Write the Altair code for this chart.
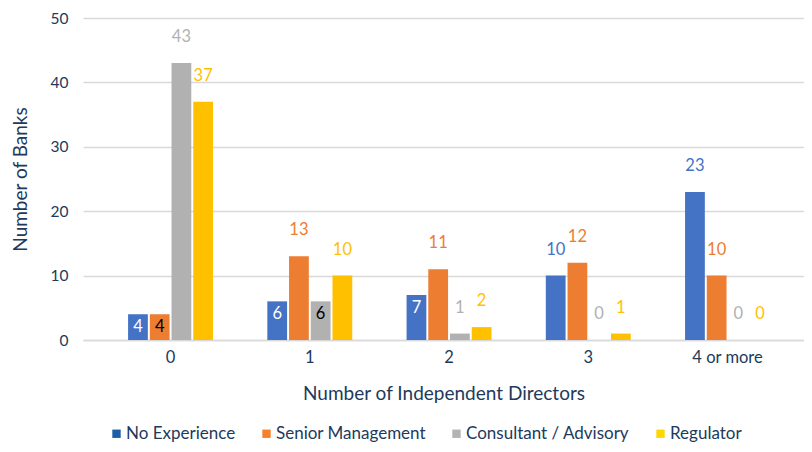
import altair as alt
import pandas as pd

categories = ["0", "1", "2", "3", "4 or more"]
series_names = ["No Experience", "Senior Management", "Consultant / Advisory", "Regulator"]
no_experience = [4, 6, 7, 10, 23]
senior_management = [4, 13, 11, 12, 10]
consultant_advisory = [43, 6, 1, 0, 0]
regulator = [37, 10, 2, 1, 0]
y_ticks = [0, 10, 20, 30, 40, 50]

bar_colors = ["#4472C4", "#ED7D31", "#B1B1B1", "#FFC000"]
legend_colors = ["#1A5FA8", "#F5822A", "#B3B3B3", "#FFD700"]
inside_text_colors = ["#FFFFFF", "#000000", "#000000", "#000000"]

rows = []
for s, vals in zip(series_names, [no_experience, senior_management, consultant_advisory, regulator]):
    for c, v in zip(categories, vals):
        rows.append({"cat": c, "series": s, "value": v})
df = pd.DataFrame(rows)

FONT = "Lato"
TEXT = "#213A5C"
GRID = "#D9D9D9"

x = alt.X(
    "cat:N", sort=categories, title="Number of Independent Directors",
    scale=alt.Scale(paddingInner=0.39, paddingOuter=0.284, align=0.57),
    axis=alt.Axis(labelAngle=0, ticks=False, labelPadding=9, titlePadding=19,
                  domainColor=GRID, domainWidth=1.5, labelFontSize=16.5, titleFontSize=19,
                  labelColor=TEXT, titleColor=TEXT, labelFont=FONT, titleFont=FONT,
                  titleFontWeight="normal"),
)
xo = alt.XOffset("series:N", sort=series_names,
                 scale=alt.Scale(paddingInner=0.09, paddingOuter=0))
y = alt.Y(
    "value:Q", title="Number of Banks",
    scale=alt.Scale(domain=[0, 50], nice=False),
    axis=alt.Axis(values=y_ticks, grid=True, gridColor=GRID, gridWidth=1.5, domain=False,
                  ticks=False, labelPadding=15, titlePadding=20, labelFontSize=15.5,
                  titleFontSize=19, labelColor=TEXT, titleColor=TEXT, labelFont=FONT,
                  titleFont=FONT, titleFontWeight="normal"),
)

base = alt.Chart(df)

bars = base.mark_bar().encode(
    x=x, xOffset=xo, y=y,
    color=alt.Color("series:N", sort=series_names,
                    scale=alt.Scale(domain=series_names, range=bar_colors), legend=None),
)

inside = base.transform_filter(
    (alt.datum.value > 3) & (alt.datum.value < 9)
).mark_text(font=FONT, fontSize=16.5, baseline="middle", dy=13).encode(
    x=x, xOffset=xo, y=alt.Y("value:Q"),
    text=alt.Text("value:Q"),
    color=alt.Color("series:N", sort=series_names,
                    scale=alt.Scale(domain=series_names, range=inside_text_colors), legend=None),
)

outside = base.transform_filter(
    (alt.datum.value <= 3) | (alt.datum.value >= 9)
).mark_text(font=FONT, fontSize=16.5, baseline="middle", dy=-26).encode(
    x=x, xOffset=xo, y=alt.Y("value:Q"),
    text=alt.Text("value:Q"),
    color=alt.Color("series:N", sort=series_names,
                    scale=alt.Scale(domain=series_names, range=bar_colors), legend=None),
)

legend_layer = base.mark_square(opacity=0).encode(
    x=x, y=alt.Y("value:Q"),
    color=alt.Color(
        "series:N", sort=series_names,
        scale=alt.Scale(domain=series_names, range=legend_colors),
        legend=alt.Legend(
            title=None, orient="none", legendX=25, legendY=407, direction="horizontal",
            columns=4, symbolType="square", symbolSize=70, symbolOpacity=1,
            symbolStrokeWidth=0, labelFontSize=17, labelFont=FONT, labelColor=TEXT,
            labelLimit=400, columnPadding=22, labelOffset=1,
        ),
    ),
)

chart = alt.layer(bars, inside, outside, legend_layer).resolve_scale(
    color="independent"
).properties(
    width=721, height=322,
    padding={"left": 75, "top": 10, "right": 0, "bottom": 104},
    autosize=alt.AutoSizeParams(type="none"),
    background="white",
).configure_view(stroke=None)

chart.save("out.html", embed_options={"renderer": "svg", "actions": False})
